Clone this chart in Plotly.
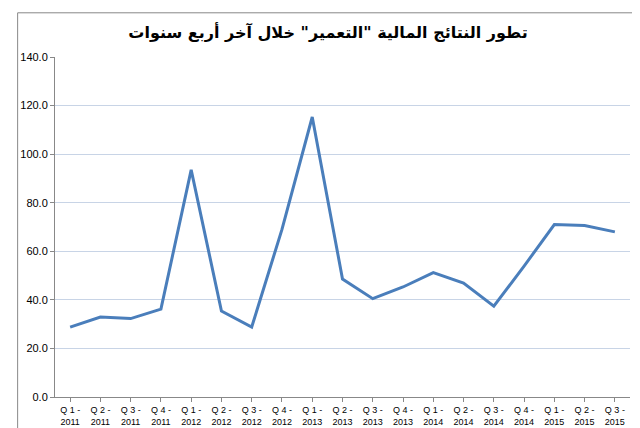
import plotly.graph_objects as go

quarters = ["Q 1 -<br>2011", "Q 2 -<br>2011", "Q 3 -<br>2011", "Q 4 -<br>2011",
            "Q 1 -<br>2012", "Q 2 -<br>2012", "Q 3 -<br>2012", "Q 4 -<br>2012",
            "Q 1 -<br>2013", "Q 2 -<br>2013", "Q 3 -<br>2013", "Q 4 -<br>2013",
            "Q 1 -<br>2014", "Q 2 -<br>2014", "Q 3 -<br>2014", "Q 4 -<br>2014",
            "Q 1 -<br>2015", "Q 2 -<br>2015", "Q 3 -<br>2015"]
values = [28.8, 32.9, 32.3, 36.2, 93.5, 35.4, 28.8, 69.0, 115.3, 48.6, 40.5, 45.3,
          51.2, 46.9, 37.4, 53.9, 71.0, 70.6, 68.0]
y_ticks = [0, 20, 40, 60, 80, 100, 120, 140]

fig = go.Figure()
fig.add_trace(go.Scatter(x=quarters, y=values, mode="lines",
                         line=dict(color="#4a7ebb", width=3)))

fig.update_layout(
    width=640, height=428,
    margin=dict(l=47, r=18, t=49, b=39, autoexpand=False),
    paper_bgcolor="white", plot_bgcolor="white",
    showlegend=False,
    title=dict(text="<b>تطور النتائج المالية \"التعمير\" خلال آخر أربع سنوات</b>",
               x=0.5, y=0.955, xanchor="center",
               font=dict(family="DejaVu Sans", size=16, color="black")),
    font=dict(family="Liberation Sans", color="black"),
    shapes=[dict(type="rect", xref="paper", yref="paper", x0=-0.065, x1=1.024,
                 y0=-0.095, y1=1.13, line=dict(color="#888", width=1))],
)
fig.update_xaxes(range=[-0.5, len(quarters) - 0.5],
                 tickfont=dict(size=9, family="Liberation Sans"), tickangle=0,
                 showline=True, linecolor="#888", ticks="outside", ticklen=4,
                 tickcolor="#888")
fig.update_yaxes(range=[0, 140], tickvals=y_ticks,
                 ticktext=[f"{v:.1f}" for v in y_ticks],
                 tickfont=dict(size=11, family="Liberation Sans"),
                 showgrid=True, gridcolor="#c8d4e6", zeroline=False,
                 showline=True, linecolor="#888", ticks="outside", ticklen=4,
                 tickcolor="#888")

fig.write_html("out.html")
